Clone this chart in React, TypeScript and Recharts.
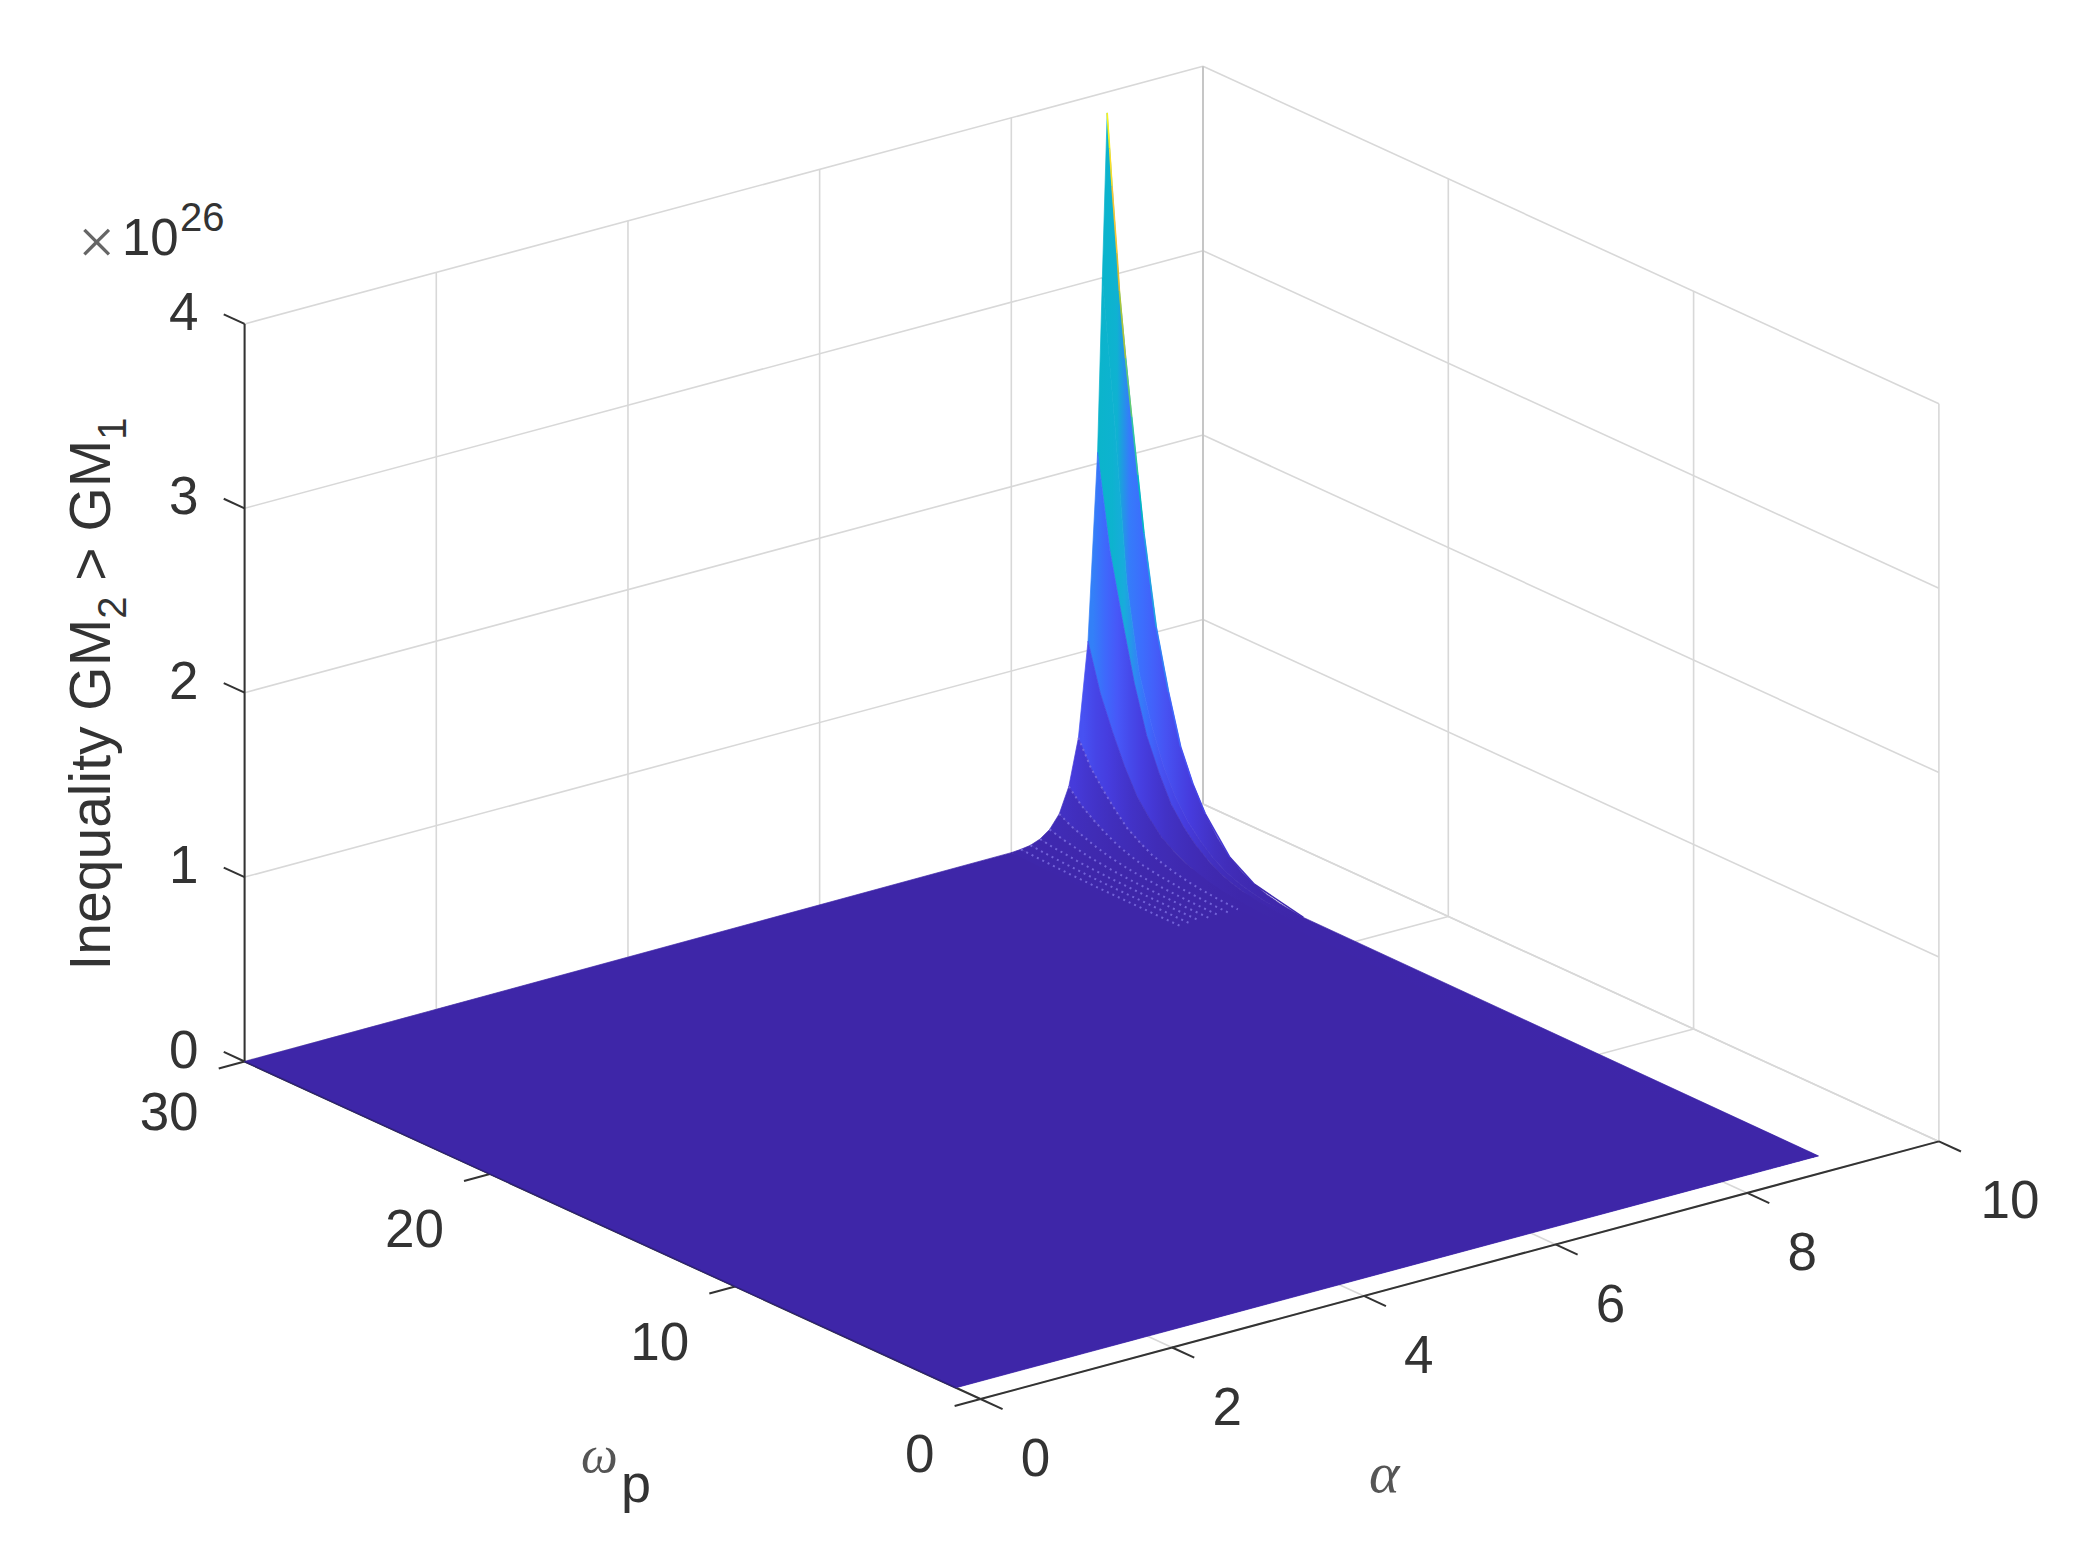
import { Area, ComposedChart, Line, Scatter, XAxis, YAxis } from 'recharts';

const WIDTH = 2073;
const HEIGHT = 1551;

// values, z in units of 1e26
const alphaNodes = [9, 8.95, 8.9, 8.8, 8.7, 8.6, 8.5, 8.4, 8.3, 8.2, 8.1, 8, 0];
const omegaNodes = [30, 29.5, 29, 28.5, 28, 27.5, 27, 26.5, 26, 25.5, 25, 24.5, 24, 23.5, 23, 22.5, 22, 1];

const zAlpha900 = [3.887, 2.95, 2.3, 1.7, 1.22, 0.9, 0.63, 0.46, 0.33, 0.23, 0.155, 0.105, 0.07, 0.045, 0.03, 0.02, 0.012, 0];
const zAlpha895 = [3.0, 2.25, 1.4, 0.95, 0.7, 0.5, 0.36, 0.26, 0.19, 0.13, 0.088, 0.06, 0.04, 0.026, 0.017, 0.011, 0.007, 0];
const zAlpha890 = [2.06, 1.56, 1.22, 0.9, 0.647, 0.477, 0.334, 0.244, 0.175, 0.122, 0.082, 0.056, 0.037, 0.024, 0.016, 0.011, 0.006, 0];
const zAlpha880 = [1.05, 0.8, 0.62, 0.46, 0.33, 0.243, 0.17, 0.124, 0.089, 0.062, 0.042, 0.028, 0.019, 0.012, 0.008, 0.005, 0.003, 0];
const zAlpha870 = [0.54, 0.41, 0.32, 0.24, 0.17, 0.126, 0.088, 0.064, 0.046, 0.032, 0.022, 0.015, 0.01, 0.006, 0.004, 0.003, 0.002, 0];
const zAlpha860 = [0.29, 0.22, 0.17, 0.128, 0.092, 0.068, 0.047, 0.035, 0.025, 0.017, 0.012, 0.008, 0.005, 0.003, 0.002, 0.002, 0.001, 0];
const zAlpha850 = [0.155, 0.118, 0.092, 0.068, 0.049, 0.036, 0.025, 0.018, 0.013, 0.009, 0.006, 0.004, 0.003, 0.002, 0.001, 0.001, 0, 0];
const zAlpha840 = [0.085, 0.065, 0.051, 0.037, 0.027, 0.02, 0.014, 0.01, 0.007, 0.005, 0.003, 0.002, 0.002, 0.001, 0.001, 0, 0, 0];
const zAlpha830 = [0.047, 0.035, 0.028, 0.02, 0.015, 0.011, 0.008, 0.006, 0.004, 0.003, 0.002, 0.001, 0.001, 0.001, 0, 0, 0, 0];
const zAlpha820 = [0.027, 0.021, 0.016, 0.012, 0.009, 0.006, 0.004, 0.003, 0.002, 0.002, 0.001, 0.001, 0, 0, 0, 0, 0, 0];
const zAlpha810 = [0.019, 0.015, 0.012, 0.009, 0.006, 0.005, 0.003, 0.002, 0.002, 0.001, 0.001, 0, 0, 0, 0, 0, 0, 0];
const zAlpha800 = [0.015, 0.012, 0.009, 0.007, 0.005, 0.004, 0.003, 0.002, 0.001, 0.001, 0, 0, 0, 0, 0, 0, 0, 0];
const zAlpha000 = [0, 0, 0, 0, 0, 0, 0, 0, 0, 0, 0, 0, 0, 0, 0, 0, 0, 0];
const zRows = [zAlpha900, zAlpha895, zAlpha890, zAlpha880, zAlpha870, zAlpha860, zAlpha850, zAlpha840, zAlpha830, zAlpha820, zAlpha810, zAlpha800, zAlpha000];

// colour levels of the two top strips, read from their shades (they do not follow their own height)
const tintTopRight = [1.75, 1.7, 1.0, 0.85, 0.7, 0.55, 0.42, 0.3, 0.22, 0.15, 0.1, 0.07, 0.05, 0.03, 0.02, 0.01, 0.005, 0];
const tintTopLeft = [1.75, 1.72, 1.58, 1.1, 0.8, 0.55, 0.42, 0.3, 0.22, 0.15, 0.1, 0.07, 0.05, 0.03, 0.02, 0.01, 0.005, 0];

// the alpha = 9 rim, read closer because its colour runs the whole map
const rimOmega = [30, 29.9, 29.8, 29.6, 29.5, 29.25, 29, 28.75, 28.5, 28, 27.5, 27, 26.5, 26, 25, 24, 22];
const rimZ = [3.887, 3.7, 3.5, 3.15, 2.95, 2.6, 2.3, 2.0, 1.7, 1.22, 0.9, 0.63, 0.46, 0.33, 0.155, 0.07, 0.012];

const alphaTicks = [0, 2, 4, 6, 8, 10];
const omegaTicks = [0, 10, 20, 30];
const zTicks = [0, 1, 2, 3, 4];
const Z_MAX = 3.887;

// parula, every fifth entry
const PARULA = [
  [62, 38, 168], [70, 60, 222], [71, 88, 248], [56, 117, 254], [43, 145, 239], [28, 169, 223],
  [2, 186, 195], [49, 198, 159], [100, 205, 111], [171, 199, 57], [230, 187, 45], [254, 201, 52], [249, 251, 21],
];
const INK = '#333333';
const GRID = '#d8d8d8';
const BACK_EDGE = '#c6c6c6';
const SPECKLE = '#7f72e4';
const FONT = '"Liberation Sans", Arial, sans-serif';

function parula(z: number) {
  const t = Math.min(1, Math.max(0, z / Z_MAX)) * 63;
  const steps = [0, 5, 10, 15, 20, 25, 30, 35, 40, 45, 50, 55, 63];
  let k = 0;
  while (k < steps.length - 2 && t > steps[k + 1]) k++;
  const f = (t - steps[k]) / (steps[k + 1] - steps[k]);
  const c = PARULA[k].map((v, i) => Math.round(v + (PARULA[k + 1][i] - v) * f));
  return `rgb(${c[0]},${c[1]},${c[2]})`;
}

// orthographic view of the MATLAB box, onto the screen-sized x/y axes
function project(a: number, w: number, z: number) {
  return {
    x: 980.5 + 95.84 * a - 24.53 * w,
    y: 1399 - 25.76 * a - 11.25 * w - 184.4 * z,
  };
}

type Pt = { x: number; y: number };

// top and bottom of a polygon at each of its corners, for a range Area
function toBand(poly: Pt[]) {
  const xs = [...new Set(poly.map(p => +p.x.toFixed(2)))].sort((p, q) => p - q);
  return xs.map(x => {
    const ys: number[] = [];
    poly.forEach((p, i) => {
      const q = poly[(i + 1) % poly.length];
      const lo = Math.min(p.x, q.x) - 0.006;
      const hi = Math.max(p.x, q.x) + 0.006;
      if (x < lo || x > hi) return;
      if (Math.abs(q.x - p.x) < 0.01) ys.push(p.y, q.y);
      else ys.push(p.y + ((q.y - p.y) * (x - p.x)) / (q.x - p.x));
    });
    return { x, band: [Math.min(...ys), Math.max(...ys)] };
  });
}

// one ribbon per alpha step, back to front, shaded across the screen by omega
const strips = alphaNodes.slice(0, -1).map((a, i) => {
  const next = alphaNodes[i + 1];
  const upper = omegaNodes.map((w, j) => project(a, w, zRows[i][j]));
  const lower = omegaNodes.map((w, j) => project(next, w, zRows[i + 1][j]));
  const tint = i === 0 ? tintTopRight : i === 1 ? tintTopLeft : zRows[i + 1];
  const centres = omegaNodes.map(w => project((a + next) / 2, w, 0).x);
  const x1 = centres[0];
  const x2 = centres[centres.length - 1];
  return {
    id: `strip${i}`,
    data: toBand([...upper, ...lower.reverse()]),
    x1,
    x2,
    stops: centres.map((c, j) => ({ offset: (c - x1) / (x2 - x1), color: parula(tint[j]) })),
  };
});

const floorBand = toBand([project(0, 30, 0), project(9, 30, 0), project(9, 1, 0), project(0, 1, 0)]);

const seg = (p: Pt, q: Pt) => [{ x: p.x, y: p.y }, { x: q.x, y: q.y }];

const gridSegments = [
  ...zTicks.map(z => seg(project(0, 30, z), project(10, 30, z))),
  ...zTicks.map(z => seg(project(10, 30, z), project(10, 0, z))),
  ...alphaTicks.map(a => seg(project(a, 30, 0), project(a, 30, 4))),
  ...omegaTicks.map(w => seg(project(10, w, 0), project(10, w, 4))),
  ...alphaTicks.map(a => seg(project(a, 30, 0), project(a, 0, 0))),
  ...omegaTicks.map(w => seg(project(0, w, 0), project(10, w, 0))),
];
const backEdge = seg(project(10, 30, 0), project(10, 30, 4));

const axisSegments = [
  seg(project(0, 30, 0), project(0, 30, 4)),
  seg(project(0, 30, 0), project(0, 0, 0)),
  seg(project(0, 0, 0), project(10, 0, 0)),
  ...zTicks.map(z => seg(project(0, 30, z), project(0, 30.85, z))),
  ...omegaTicks.map(w => seg(project(0, w, 0), project(-0.27, w, 0))),
  ...alphaTicks.map(a => seg(project(a, 0, 0), project(a, -0.9, 0))),
];
const frontEdge = seg(project(0, 30, 0), project(0, 1, 0));

const rimSegments = rimOmega.slice(0, -1).map((w, i) => ({
  color: parula((rimZ[i] + rimZ[i + 1]) / 2),
  data: seg(project(9, w, rimZ[i]), project(9, rimOmega[i + 1], rimZ[i + 1])),
}));

// the mesh lines break into light specks near the foot of the spike
const speckleRows = [4, 5, 6, 7, 8, 9, 10].map(i =>
  omegaNodes.slice(0, 14).map((w, j) => project(alphaNodes[i], w, zRows[i][j])),
);

const tickLabels = [
  ...zTicks.map(z => {
    const p = project(0, 30, z);
    return { ...p, text: String(z), dx: -46, dy: -13, anchor: 'end' };
  }),
  ...omegaTicks.map(w => {
    const p = project(0, w, 0);
    return { ...p, text: String(w), dx: -46, dy: w === 30 ? 49 : 54, anchor: 'end' };
  }),
  ...alphaTicks.map(a => {
    const p = project(a, 0, 0);
    return { ...p, text: String(a), dx: a === 10 ? 71 : 55, dy: 58, anchor: 'middle' };
  }),
];

const anchorPoint = [{ x: 0, y: 0 }];

function TickLabel(props: any) {
  const { cx, cy, payload } = props;
  return (
    <text
      x={cx + payload.dx}
      y={cy + payload.dy}
      dy="0.36em"
      textAnchor={payload.anchor}
      fontFamily={FONT}
      fontSize={53}
      fill={INK}
    >
      {payload.text}
    </text>
  );
}

function Titles(props: any) {
  const { cx, cy } = props;
  const at = (x: number, y: number) => ({ x: cx + x, y: cy + y });
  return (
    <g fontFamily={FONT} fill={INK}>
      <text transform={`translate(${cx + 110},${cy + 694}) rotate(-90)`} textAnchor="middle" fontSize={57}>
        Inequality GM<tspan fontSize={40} dy={16}>2</tspan>
        <tspan dy={-16}> &gt; GM</tspan>
        <tspan fontSize={40} dy={16}>1</tspan>
      </text>
      <text {...at(78, 264)} fontSize={66} fontFamily='"Liberation Serif", serif' fill="#666666">×</text>
      <text {...at(122, 255)} fontSize={51}>10</text>
      <text {...at(180, 231)} fontSize={40}>26</text>
      <text {...at(581, 1472)} fontSize={52} fontFamily='"Liberation Serif", serif' fontStyle="italic" fill="#555555">ω</text>
      <text {...at(621, 1502)} fontSize={54}>p</text>
      <text {...at(1369, 1492)} fontSize={58} fontFamily='"Liberation Serif", serif' fontStyle="italic" fill="#555555">α</text>
    </g>
  );
}

export default function App() {
  return (
    <div style={{ position: 'absolute', left: 0, top: 0, width: WIDTH, height: HEIGHT, background: '#fff' }}>
      <ComposedChart width={WIDTH} height={HEIGHT} margin={{ top: 0, right: 0, bottom: 0, left: 0 }}>
        <defs>
          {strips.map(s => (
            <linearGradient key={s.id} id={s.id} gradientUnits="userSpaceOnUse" x1={s.x1} x2={s.x2} y1={0} y2={0}>
              {s.stops.map((st, k) => (
                <stop key={k} offset={st.offset} stopColor={st.color} />
              ))}
            </linearGradient>
          ))}
        </defs>
        <XAxis type="number" dataKey="x" domain={[0, WIDTH]} hide />
        <YAxis type="number" dataKey="y" domain={[0, HEIGHT]} reversed hide />
        {gridSegments.map((d, i) => (
          <Line key={`g${i}`} data={d} dataKey="y" stroke={GRID} strokeWidth={1.6} dot={false} activeDot={false} isAnimationActive={false} zIndex={10} />
        ))}
        <Line data={backEdge} dataKey="y" stroke={BACK_EDGE} strokeWidth={2} dot={false} activeDot={false} isAnimationActive={false} zIndex={11} />
        {axisSegments.map((d, i) => (
          <Line key={`ax${i}`} data={d} dataKey="y" stroke={INK} strokeWidth={2} dot={false} activeDot={false} isAnimationActive={false} zIndex={20} />
        ))}
        <Area data={floorBand} dataKey="band" type="linear" fill={parula(0)} fillOpacity={1} stroke="none" dot={false} activeDot={false} isAnimationActive={false} zIndex={90} />
        {strips.map(s => (
          <Area
            key={s.id}
            data={s.data}
            dataKey="band"
            type="linear"
            fill={`url(#${s.id})`}
            fillOpacity={1}
            stroke={`url(#${s.id})`}
            strokeWidth={0.7}
            dot={false}
            activeDot={false}
            isAnimationActive={false}
            zIndex={100}
          />
        ))}
        <Line data={frontEdge} dataKey="y" stroke="#2a1f70" strokeWidth={1.5} strokeOpacity={0.75} dot={false} activeDot={false} isAnimationActive={false} zIndex={200} />
        {speckleRows.map((d, i) => (
          <Line
            key={`s${i}`}
            data={d}
            dataKey="y"
            stroke={SPECKLE}
            strokeWidth={2}
            strokeDasharray="2 4"
            strokeOpacity={0.8}
            dot={false}
            activeDot={false}
            isAnimationActive={false}
            zIndex={300}
          />
        ))}
        {rimSegments.map((r, i) => (
          <Line key={`r${i}`} data={r.data} dataKey="y" stroke={r.color} strokeWidth={1.6} dot={false} activeDot={false} isAnimationActive={false} zIndex={400} />
        ))}
        <Scatter data={tickLabels} shape={TickLabel} isAnimationActive={false} zIndex={600} />
        <Scatter data={anchorPoint} shape={Titles} isAnimationActive={false} zIndex={600} />
      </ComposedChart>
    </div>
  );
}
